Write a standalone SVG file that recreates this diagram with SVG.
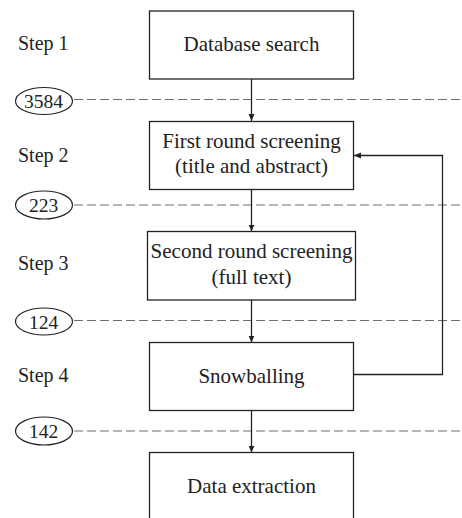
<svg xmlns="http://www.w3.org/2000/svg" width="462" height="518" viewBox="0 0 462 518">
<defs>
<marker id="ah" markerWidth="8" markerHeight="8" refX="7" refY="4" orient="auto" markerUnits="userSpaceOnUse">
<path d="M0,1 L7,4 L0,7 Z" fill="#222"/>
</marker>
</defs>
<style>
.box{fill:#fff;stroke:#222;stroke-width:1.3}
.t{font-family:"Liberation Serif",serif;font-size:21px;fill:#222;text-anchor:middle}
.s{font-family:"Liberation Serif",serif;font-size:20px;fill:#222}
.n{font-family:"Liberation Serif",serif;font-size:19.5px;fill:#222;text-anchor:middle}
.ell{fill:#fff;stroke:#222;stroke-width:1.2}
.dash{stroke:#6f6f6f;stroke-width:1.2;stroke-dasharray:9 4;fill:none}
.c{stroke:#222;stroke-width:1.3;fill:none}
</style>
<rect width="462" height="518" fill="#fff"/>
<g id="dashes">
<line class="dash" x1="74" y1="99.5" x2="462" y2="99.5"/>
<line class="dash" x1="74" y1="205" x2="462" y2="205"/>
<line class="dash" x1="74" y1="320.5" x2="462" y2="320.5"/>
<line class="dash" x1="74" y1="431" x2="462" y2="431"/>
</g>
<g id="steps">
<text class="s" x="18" y="50">Step 1</text>
<text class="s" x="18" y="162">Step 2</text>
<text class="s" x="18" y="270">Step 3</text>
<text class="s" x="18" y="382">Step 4</text>
</g>
<g id="counts">
<g id="c3584"><ellipse class="ell" cx="44" cy="101" rx="28.5" ry="13.5"/><text class="n" x="43.5" y="108">3584</text></g>
<g id="c223"><ellipse class="ell" cx="44" cy="205" rx="28.5" ry="14"/><text class="n" x="43.5" y="212">223</text></g>
<g id="c124"><ellipse class="ell" cx="44" cy="321.5" rx="28.5" ry="13.5"/><text class="n" x="43.5" y="328.5">124</text></g>
<g id="c142"><ellipse class="ell" cx="44" cy="431" rx="28.5" ry="14"/><text class="n" x="43.5" y="438">142</text></g>
</g>
<g id="connectors">
<line class="c" x1="251.5" y1="79" x2="251.5" y2="121" marker-end="url(#ah)"/>
<line class="c" x1="251.5" y1="189.5" x2="251.5" y2="231.5" marker-end="url(#ah)"/>
<line class="c" x1="251.5" y1="300" x2="251.5" y2="342.5" marker-end="url(#ah)"/>
<line class="c" x1="251.5" y1="410.5" x2="251.5" y2="452.5" marker-end="url(#ah)"/>
<polyline class="c" points="353.5,374.5 442.5,374.5 442.5,155.5 354,155.5" marker-end="url(#ah)"/>
</g>
<g id="n1"><rect class="box" x="149.5" y="11" width="204" height="68"/><text class="t" x="251.5" y="51">Database search</text></g>
<g id="n2"><rect class="box" x="149.5" y="121.5" width="204" height="68"/><text class="t" x="251.5" y="148">First round screening</text><text class="t" x="251.5" y="173">(title and abstract)</text></g>
<g id="n3"><rect class="box" x="147.5" y="231.5" width="208" height="68.5"/><text class="t" x="251.5" y="258">Second round screening</text><text class="t" x="251.5" y="284">(full text)</text></g>
<g id="n4"><rect class="box" x="149.5" y="342.5" width="204" height="68"/><text class="t" x="251.5" y="383">Snowballing</text></g>
<g id="n5"><rect class="box" x="149.5" y="452.5" width="204" height="80"/><text class="t" x="251.5" y="493">Data extraction</text></g>
</svg>
